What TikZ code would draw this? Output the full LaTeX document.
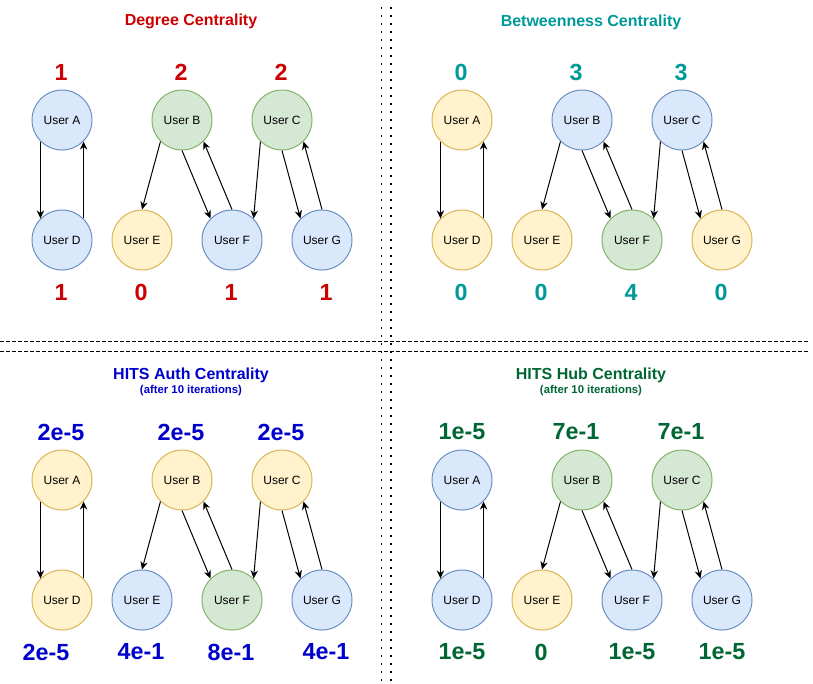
\documentclass[tikz,border=0pt]{standalone}
\usepackage{fontspec}
\setmainfont{Liberation Sans}
\usetikzlibrary{arrows.meta, positioning}

\definecolor{degreered}{HTML}{CC0000}
\definecolor{betweenteal}{HTML}{009999}
\definecolor{authblue}{HTML}{0000CC}
\definecolor{hubgreen}{HTML}{006633}
\definecolor{bluefill}{HTML}{DAE8FC}
\definecolor{bluedraw}{HTML}{6C8EBF}
\definecolor{greenfill}{HTML}{D5E8D4}
\definecolor{greendraw}{HTML}{82B366}
\definecolor{yellowfill}{HTML}{FFF2CC}
\definecolor{yellowdraw}{HTML}{D6B656}

\tikzset{
  user/.style={circle, minimum size=45pt, inner sep=0pt, line width=0.75pt,
    font=\fontsize{9}{10}\selectfont},
  blueuser/.style={user, fill=bluefill, draw=bluedraw},
  greenuser/.style={user, fill=greenfill, draw=greendraw},
  yellowuser/.style={user, fill=yellowfill, draw=yellowdraw},
  score/.style={font=\fontsize{17.5}{20}\selectfont\bfseries},
  paneltitle/.style={font=\fontsize{12}{14}\selectfont\bfseries},
  panelsub/.style={font=\fontsize{8.5}{10}\selectfont\bfseries},
  link/.style={-{Stealth[length=6pt, width=5.5pt]}, line width=0.75pt},
}

\begin{document}
\begin{tikzpicture}[x=0.75pt, y=-0.75pt]
\useasboundingbox (0,0) rectangle (813,683);
\fill [white] (0,0) rectangle (813,683);

% separators
\draw [line width=1.2pt, dash pattern=on 1.2pt off 4.8pt] (381.5,7) -- (381.5,683);
\draw [line width=1.2pt, dash pattern=on 1.2pt off 4.8pt] (391,7) -- (391,683);
\draw [line width=0.75pt, dash pattern=on 3pt off 1.5pt] (0,341.5) -- (808,341.5);
\draw [line width=0.75pt, dash pattern=on 3pt off 1.5pt] (0,351.5) -- (808,351.5);

% degree centrality
\begin{scope}
\node (dtitle) at (191,21) [paneltitle, text=degreered] {Degree Centrality};
\node (dA) at (62,120) [blueuser] {User A};
\node (dB) at (182,120) [greenuser] {User B};
\node (dC) at (282,120) [greenuser] {User C};
\node (dD) at (62,240) [blueuser] {User D};
\node (dE) at (142,240) [yellowuser] {User E};
\node (dF) at (232,240) [blueuser] {User F};
\node (dG) at (322,240) [blueuser] {User G};
\node (dsA) at (61,72) [score, text=degreered] {1};
\node (dsB) at (181,72) [score, text=degreered] {2};
\node (dsC) at (281,72) [score, text=degreered] {2};
\node (dsD) at (61,292) [score, text=degreered] {1};
\node (dsE) at (141,292) [score, text=degreered] {0};
\node (dsF) at (231,292) [score, text=degreered] {1};
\node (dsG) at (326,292) [score, text=degreered] {1};
\draw [link] (dA.-135) -- (dD.135);
\draw [link] (dD.45) -- (dA.-45);
\draw [link] (dB.-135) -- (dE.north);
\draw [link] (dB.south) -- (dF.135);
\draw [link] (dF.north) -- (dB.-45);
\draw [link] (dC.-135) -- (dF.45);
\draw [link] (dC.south) -- (dG.135);
\draw [link] (dG.north) -- (dC.-45);
\end{scope}

% betweenness centrality
\begin{scope}[shift={(400,0)}]
\node (btitle) at (191,22) [paneltitle, text=betweenteal] {Betweenness Centrality};
\node (bA) at (62,120) [yellowuser] {User A};
\node (bB) at (182,120) [blueuser] {User B};
\node (bC) at (282,120) [blueuser] {User C};
\node (bD) at (62,240) [yellowuser] {User D};
\node (bE) at (142,240) [yellowuser] {User E};
\node (bF) at (232,240) [greenuser] {User F};
\node (bG) at (322,240) [yellowuser] {User G};
\node (bsA) at (61,72) [score, text=betweenteal] {0};
\node (bsB) at (176,72) [score, text=betweenteal] {3};
\node (bsC) at (281,72) [score, text=betweenteal] {3};
\node (bsD) at (61,292) [score, text=betweenteal] {0};
\node (bsE) at (141,292) [score, text=betweenteal] {0};
\node (bsF) at (231,292) [score, text=betweenteal] {4};
\node (bsG) at (321,292) [score, text=betweenteal] {0};
\draw [link] (bA.-135) -- (bD.135);
\draw [link] (bD.45) -- (bA.-45);
\draw [link] (bB.-135) -- (bE.north);
\draw [link] (bB.south) -- (bF.135);
\draw [link] (bF.north) -- (bB.-45);
\draw [link] (bC.-135) -- (bF.45);
\draw [link] (bC.south) -- (bG.135);
\draw [link] (bG.north) -- (bC.-45);
\end{scope}

% hits authority
\begin{scope}[shift={(0,360)}]
\node (atitle) at (191,15) [paneltitle, text=authblue] {HITS Auth Centrality};
\node (asub) at (191,30.5) [panelsub, text=authblue] {(after 10 iterations)};
\node (aA) at (62,120) [yellowuser] {User A};
\node (aB) at (182,120) [yellowuser] {User B};
\node (aC) at (282,120) [yellowuser] {User C};
\node (aD) at (62,240) [yellowuser] {User D};
\node (aE) at (142,240) [blueuser] {User E};
\node (aF) at (232,240) [greenuser] {User F};
\node (aG) at (322,240) [blueuser] {User G};
\node (asA) at (61,72) [score, text=authblue] {2e-5};
\node (asB) at (181,72) [score, text=authblue] {2e-5};
\node (asC) at (281,72) [score, text=authblue] {2e-5};
\node (asD) at (46,292) [score, text=authblue] {2e-5};
\node (asE) at (141,292) [score, text=authblue] {4e-1};
\node (asF) at (231,292) [score, text=authblue] {8e-1};
\node (asG) at (326,292) [score, text=authblue] {4e-1};
\draw [link] (aA.-135) -- (aD.135);
\draw [link] (aD.45) -- (aA.-45);
\draw [link] (aB.-135) -- (aE.north);
\draw [link] (aB.south) -- (aF.135);
\draw [link] (aF.north) -- (aB.-45);
\draw [link] (aC.-135) -- (aF.45);
\draw [link] (aC.south) -- (aG.135);
\draw [link] (aG.north) -- (aC.-45);
\end{scope}

% hits hub
\begin{scope}[shift={(400,360)}]
\node (htitle) at (191,15) [paneltitle, text=hubgreen] {HITS Hub Centrality};
\node (hsub) at (191,30.5) [panelsub, text=hubgreen] {(after 10 iterations)};
\node (hA) at (62,120) [blueuser] {User A};
\node (hB) at (182,120) [greenuser] {User B};
\node (hC) at (282,120) [greenuser] {User C};
\node (hD) at (62,240) [blueuser] {User D};
\node (hE) at (142,240) [yellowuser] {User E};
\node (hF) at (232,240) [blueuser] {User F};
\node (hG) at (322,240) [blueuser] {User G};
\node (hsA) at (62,72) [score, text=hubgreen] {1e-5};
\node (hsB) at (176,72) [score, text=hubgreen] {7e-1};
\node (hsC) at (281,72) [score, text=hubgreen] {7e-1};
\node (hsD) at (62,292) [score, text=hubgreen] {1e-5};
\node (hsE) at (141,292) [score, text=hubgreen] {0};
\node (hsF) at (232,292) [score, text=hubgreen] {1e-5};
\node (hsG) at (322,292) [score, text=hubgreen] {1e-5};
\draw [link] (hA.-135) -- (hD.135);
\draw [link] (hD.45) -- (hA.-45);
\draw [link] (hB.-135) -- (hE.north);
\draw [link] (hB.south) -- (hF.135);
\draw [link] (hF.north) -- (hB.-45);
\draw [link] (hC.-135) -- (hF.45);
\draw [link] (hC.south) -- (hG.135);
\draw [link] (hG.north) -- (hC.-45);
\end{scope}
\end{tikzpicture}
\end{document}
